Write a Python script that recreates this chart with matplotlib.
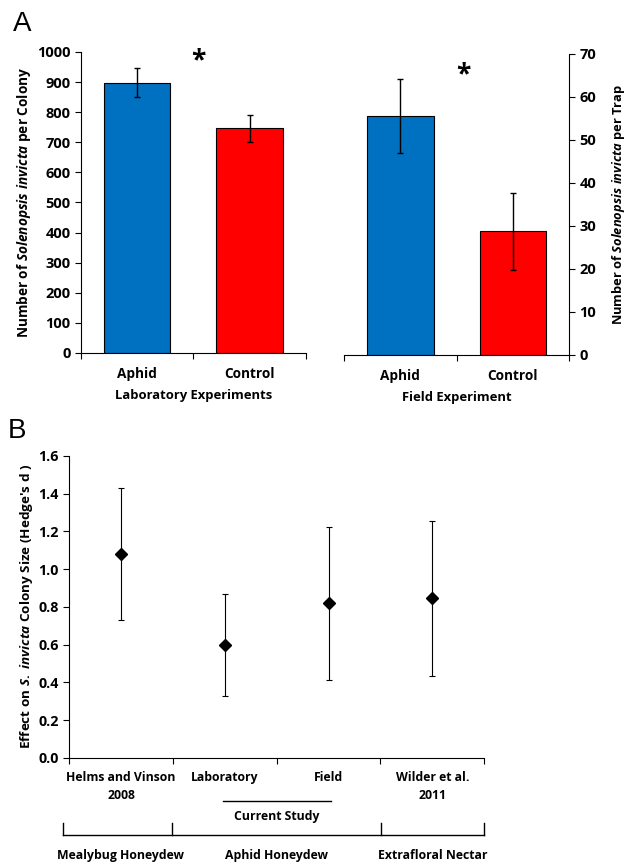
import matplotlib
matplotlib.use('Agg')
import matplotlib.pyplot as plt

FONT = 'Open Sans'
plt.rcParams['font.family'] = FONT
plt.rcParams['font.weight'] = 'bold'
plt.rcParams['axes.labelweight'] = 'bold'
plt.rcParams['mathtext.fontset'] = 'custom'
plt.rcParams['mathtext.rm'] = FONT + ':bold'
plt.rcParams['mathtext.it'] = FONT + ':italic'

# panel A data
treat = ['Aphid', 'Control']
lab_mean = [897, 746]
lab_se = [48, 46]
field_mean = [55.6, 28.7]
field_se = [8.6, 9.0]
bar_colors = ['#0070C0', '#FF0000']

# panel B data
studies = ['Helms and Vinson\n2008', 'Laboratory', 'Field', 'Wilder et al.\n2011']
effect = [1.08, 0.60, 0.82, 0.845]
ci_lo = [0.73, 0.325, 0.41, 0.435]
ci_hi = [1.43, 0.87, 1.225, 1.255]
groups = ['Mealybug Honeydew', 'Aphid Honeydew', 'Extrafloral Nectar']

fig = plt.figure(figsize=(6.28, 8.65), dpi=100)

def bar_panel(ax, means, errs, ylim, step):
    xs = range(len(means))
    ax.bar(xs, means, width=0.59, color=bar_colors, edgecolor='black', linewidth=0.8)
    ax.errorbar(xs, means, yerr=errs, fmt='none', ecolor='black', elinewidth=1, capsize=2.5, capthick=1)
    ax.set_xlim(-0.5, 1.5)
    ax.set_ylim(0, ylim)
    ax.set_yticks([step * i for i in range(int(ylim / step) + 1)])
    ax.set_xticks([-0.5, 0.5, 1.5])
    ax.set_xticklabels([])
    ax.set_xticks(list(xs), minor=True)
    ax.set_xticklabels(treat, minor=True, fontsize=9.8, fontweight='bold')
    ax.tick_params(axis='x', which='minor', length=0, pad=10)
    ax.tick_params(axis='x', which='major', length=4, direction='out')
    ax.tick_params(axis='y', labelsize=10.5, length=4)
    for t in ax.get_yticklabels():
        t.set_fontweight('bold')
    ax.spines['top'].set_visible(False)

ax1 = fig.add_axes([0.129, 0.592, 0.358, 0.348])
bar_panel(ax1, lab_mean, lab_se, 1000, 100)
ax1.spines['right'].set_visible(False)
ax1.set_ylabel(r'Number of $Solenopsis\ invicta$ per Colony', fontsize=9.8, fontweight='bold', labelpad=3)
ax1.set_xlabel('Laboratory Experiments', fontsize=9.4, fontweight='bold', labelpad=6)
ax1.text(0.54, 972, '*', ha='center', va='center', fontsize=19, fontweight='bold')

ax2 = fig.add_axes([0.548, 0.590, 0.358, 0.348])
bar_panel(ax2, field_mean, field_se, 70, 10)
ax2.spines['left'].set_visible(False)
ax2.yaxis.tick_right()
ax2.yaxis.set_label_position('right')
ax2.set_ylabel(r'Number of $Solenopsis\ invicta$ per Trap', fontsize=9.3, fontweight='bold', rotation=90, labelpad=10)
ax2.set_xlabel('Field Experiment', fontsize=9.4, fontweight='bold', labelpad=6)
ax2.text(0.56, 65.0, '*', ha='center', va='center', fontsize=19, fontweight='bold')

fig.text(0.02, 0.972, 'A', fontsize=20, fontweight='normal', family='Liberation Sans', va='center')
fig.text(0.012, 0.502, 'B', fontsize=20, fontweight='normal', family='Liberation Sans', va='center')

# panel B
ax3 = fig.add_axes([0.110, 0.124, 0.661, 0.349])
xs = list(range(len(effect)))
yerr = [[e - l for e, l in zip(effect, ci_lo)], [h - e for e, h in zip(effect, ci_hi)]]
ax3.errorbar(xs, effect, yerr=yerr, fmt='D', color='black', markersize=6,
             elinewidth=0.8, capsize=2, capthick=0.8)
ax3.set_xlim(-0.5, 3.5)
ax3.set_ylim(0, 1.6)
ax3.set_yticks([0.2 * i for i in range(9)])
ax3.set_yticklabels(['%.1f' % (0.2 * i) for i in range(9)], fontweight='bold')
ax3.set_xticks([-0.5, 0.5, 1.5, 2.5, 3.5])
ax3.set_xticklabels([])
ax3.tick_params(axis='x', length=4)
ax3.tick_params(axis='y', labelsize=10.3, length=4)
ax3.spines['top'].set_visible(False)
ax3.spines['right'].set_visible(False)
ax3.set_ylabel(r'Effect on $S.\ invicta$ Colony Size (Hedge' + "'" + r's d )', fontsize=9.7, fontweight='bold', labelpad=2)

tr = ax3.get_xaxis_transform()
for i, s in enumerate(studies):
    ax3.text(xs[i], -0.045, s, transform=tr, ha='center', va='top', fontsize=8.8, fontweight='bold', linespacing=1.5)
ax3.plot([0.98, 2.02], [-0.143, -0.143], transform=tr, color='black', lw=1, clip_on=False)
ax3.text(1.5, -0.193, 'Current Study', transform=tr, ha='center', va='center', fontsize=8.8, fontweight='bold')

ax3.plot([-0.56, 3.5], [-0.256, -0.256], transform=tr, color='black', lw=1, clip_on=False)
for bx in [-0.56, 0.49, 2.51, 3.5]:
    ax3.plot([bx, bx], [-0.256, -0.216], transform=tr, color='black', lw=1, clip_on=False)
for gx, g in zip([0.0, 1.5, 3.0], groups):
    ax3.text(gx, -0.325, g, transform=tr, ha='center', va='center', fontsize=8.8, fontweight='bold')

plt.savefig('out.png', dpi=100)
